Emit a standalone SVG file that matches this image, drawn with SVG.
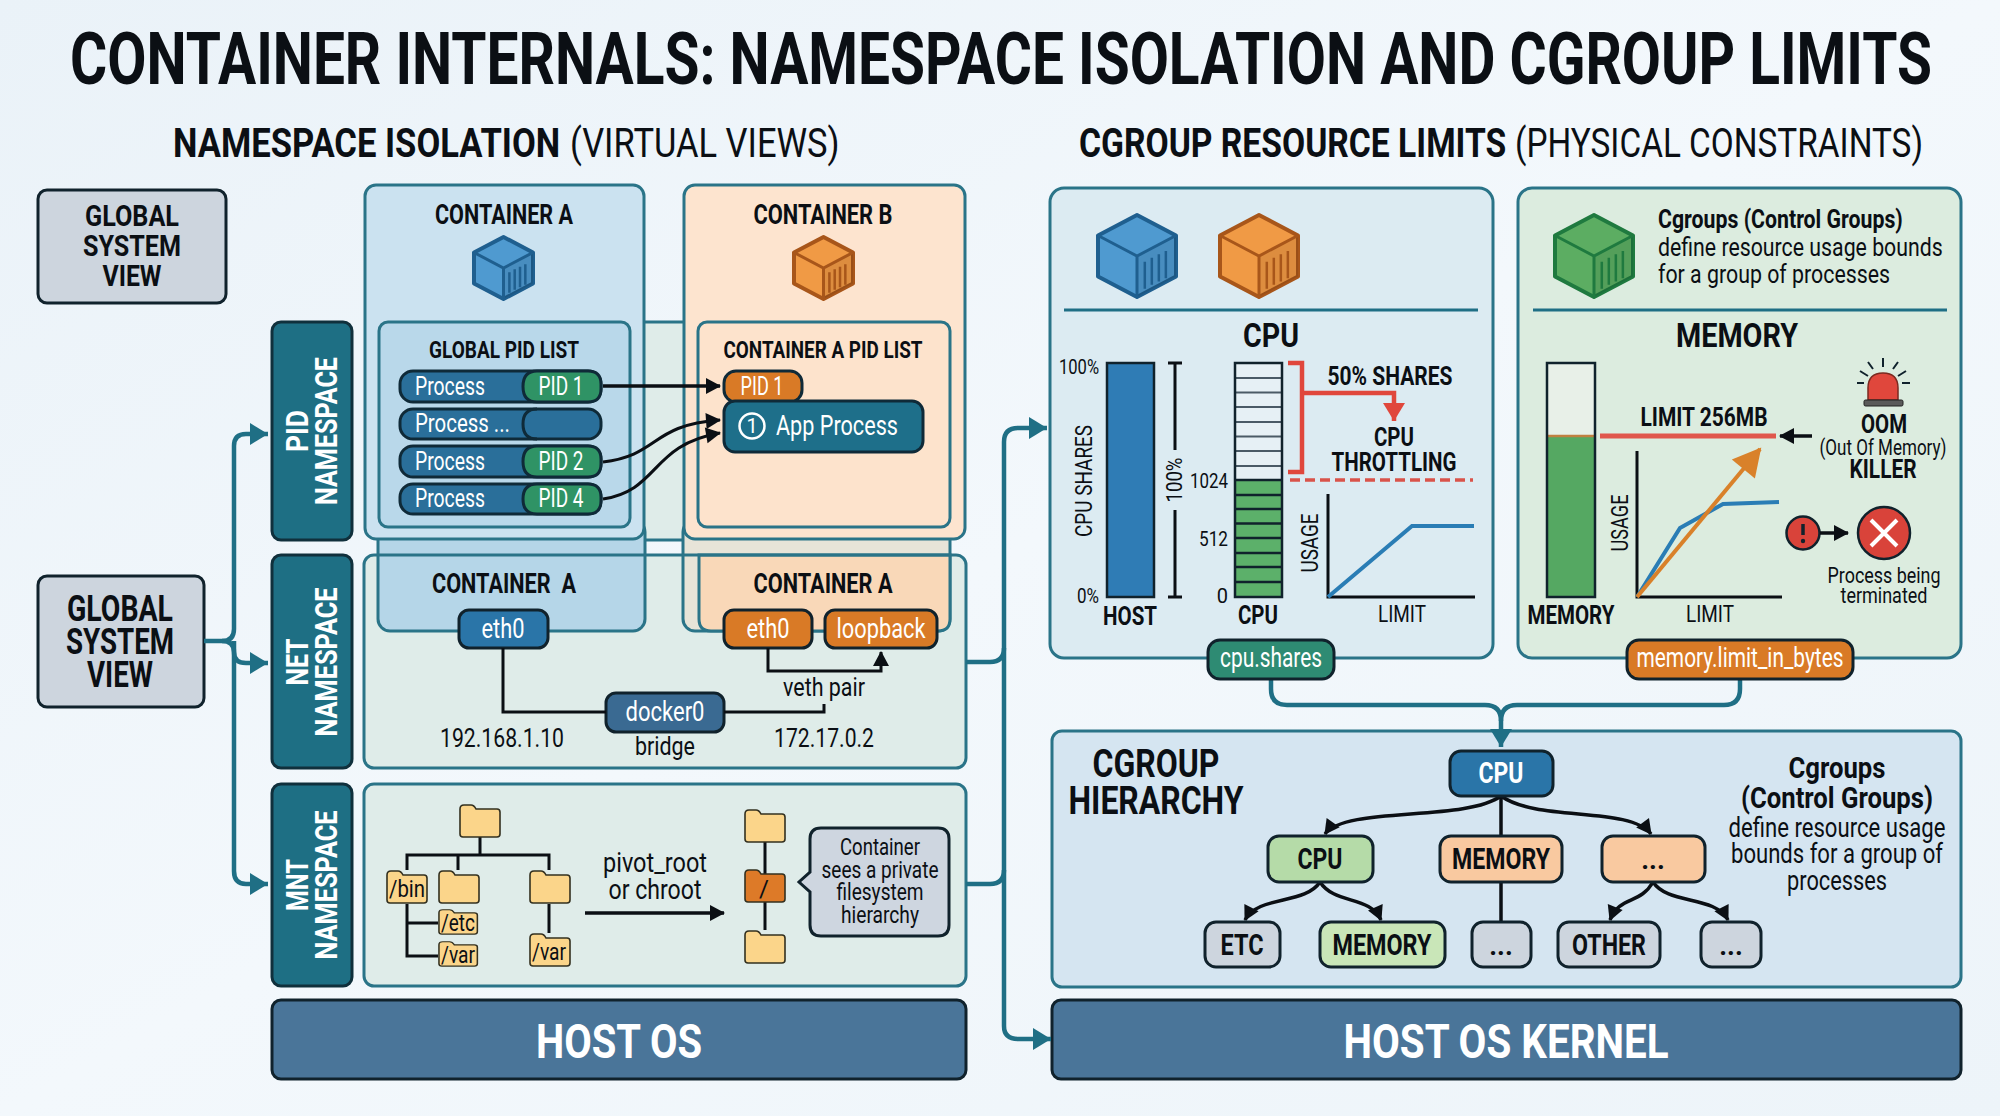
<svg xmlns="http://www.w3.org/2000/svg" width="2000" height="1116" viewBox="0 0 2000 1116">
<style>
text{font-family:Roboto,"Liberation Sans",sans-serif;fill:#0b0f14}
.b{font-weight:700}
.m{text-anchor:middle}
.w{fill:#fff}
.panel{stroke:#2a7488;stroke-width:3}
.dk{stroke:#10222c;stroke-width:3}
.tl{fill:none;stroke:#1f6f85;stroke-width:4.5;stroke-linejoin:round}
.bk{fill:none;stroke:#0b0f14;stroke-width:3.5}
.bk3{fill:none;stroke:#0b0f14;stroke-width:3}
.thin{fill:none;stroke:#0b0f14;stroke-width:3}
.red{fill:none;stroke:#e0473c;stroke-width:4.5}
.dash{fill:none;stroke:#d9534a;stroke-width:3.5;stroke-dasharray:10,5}
.ns{fill:#1e6f84;stroke:#10303c;stroke-width:3}
.pill{fill:#2a6f9a;stroke:#0f2a38;stroke-width:3}
.pid{fill:#2f9365;stroke:#0f2a38;stroke-width:3}
.fo{fill:#fbd58a;stroke:#33301f;stroke-width:1.6}
.gr{fill:#cdd5de;stroke:#10222c;stroke-width:3}
</style>
<defs>
<linearGradient id="bg" x1="0" y1="0" x2="1" y2="1"><stop offset="0" stop-color="#eaf2f8"/><stop offset=".5" stop-color="#f3f8fc"/><stop offset="1" stop-color="#edf4f9"/></linearGradient>
<marker id="at" markerUnits="userSpaceOnUse" markerWidth="22" markerHeight="24" refX="20" refY="12" orient="auto"><path d="M2,1 L20,12 L2,23 Z" fill="#1f6f85"/></marker>
<marker id="ab" markerUnits="userSpaceOnUse" markerWidth="18" markerHeight="18" refX="15" refY="9" orient="auto"><path d="M1,1 L16,9 L1,17 Z" fill="#0b0f14"/></marker>
<marker id="ar" markerUnits="userSpaceOnUse" markerWidth="24" markerHeight="24" refX="20" refY="12" orient="auto"><path d="M2,1 L20,12 L2,23 Z" fill="#e0473c"/></marker>
<marker id="ao" markerUnits="userSpaceOnUse" markerWidth="36" markerHeight="36" refX="28" refY="18" orient="auto"><path d="M2,3 L30,18 L2,33 Z" fill="#d9812a"/></marker>
<g id="cube">
<path d="M50,0 L100,25 V75 L50,100 L0,75 V25 Z" stroke-width="4" vector-effect="non-scaling-stroke" stroke-linejoin="round"/>
<path d="M50,50 L100,25 V75 L50,100 Z" fill="#000" fill-opacity=".08" stroke="none"/>
<path d="M0,25 L50,50 L100,25 M50,50 V100" fill="none" vector-effect="non-scaling-stroke" stroke-width="3"/>
<path d="M60,57 V90 M69,52 V85 M78,48 V81 M87,44 V77" fill="none" vector-effect="non-scaling-stroke" stroke-width="2.5"/>
</g>
<path id="folder" d="M1,5 Q1,1 5,1 L12,1 Q15,1 17,5 L38,5 Q41,5 41,8 L41,30 Q41,33 38,33 L4,33 Q1,33 1,30 Z"/>
</defs>
<rect width="2000" height="1116" fill="url(#bg)"/>

<g id="headings">
<text class="b m" transform="translate(1001,84) scale(.78,1)" font-size="72" textLength="2387" lengthAdjust="spacingAndGlyphs">CONTAINER INTERNALS: NAMESPACE ISOLATION AND CGROUP LIMITS</text>
<text class="b" transform="translate(173,157) scale(.8,1)" font-size="41" textLength="484" lengthAdjust="spacingAndGlyphs">NAMESPACE ISOLATION</text>
<text transform="translate(570,157) scale(.8,1)" font-size="41" textLength="337" lengthAdjust="spacingAndGlyphs">(VIRTUAL VIEWS)</text>
<text class="b" transform="translate(1079,157) scale(.8,1)" font-size="41" textLength="534" lengthAdjust="spacingAndGlyphs">CGROUP RESOURCE LIMITS</text>
<text transform="translate(1515,157) scale(.8,1)" font-size="41" textLength="510" lengthAdjust="spacingAndGlyphs">(PHYSICAL CONSTRAINTS)</text>
</g>

<g id="global-view-top">
<rect x="38" y="190" width="188" height="113" rx="9" class="gr"/>
<text class="b m" x="132" y="226" font-size="30" textLength="94" lengthAdjust="spacingAndGlyphs">GLOBAL</text>
<text class="b m" x="132" y="256" font-size="30" textLength="98" lengthAdjust="spacingAndGlyphs">SYSTEM</text>
<text class="b m" x="132" y="286" font-size="30" textLength="59" lengthAdjust="spacingAndGlyphs">VIEW</text>
</g>
<g id="global-view-main">
<rect x="38" y="576" width="166" height="131" rx="9" class="gr"/>
<text class="b m" x="120" y="621" font-size="36" textLength="106" lengthAdjust="spacingAndGlyphs">GLOBAL</text>
<text class="b m" x="120" y="654" font-size="36" textLength="108" lengthAdjust="spacingAndGlyphs">SYSTEM</text>
<text class="b m" x="120" y="687" font-size="36" textLength="66" lengthAdjust="spacingAndGlyphs">VIEW</text>
</g>

<g id="pid-namespace-label">
<rect x="272" y="322" width="80" height="218" rx="9" class="ns"/>
<text class="b m w" transform="translate(308,431) rotate(-90)" font-size="32" textLength="42" lengthAdjust="spacingAndGlyphs">PID</text>
<text class="b m w" transform="translate(337,431) rotate(-90)" font-size="32" textLength="148" lengthAdjust="spacingAndGlyphs">NAMESPACE</text>
</g>
<g id="net-namespace-label">
<rect x="272" y="555" width="80" height="213" rx="9" class="ns"/>
<text class="b m w" transform="translate(308,662) rotate(-90)" font-size="32" textLength="47" lengthAdjust="spacingAndGlyphs">NET</text>
<text class="b m w" transform="translate(337,662) rotate(-90)" font-size="32" textLength="149" lengthAdjust="spacingAndGlyphs">NAMESPACE</text>
</g>
<g id="mnt-namespace-label">
<rect x="272" y="784" width="80" height="202" rx="9" class="ns"/>
<text class="b m w" transform="translate(308,885) rotate(-90)" font-size="32" textLength="52" lengthAdjust="spacingAndGlyphs">MNT</text>
<text class="b m w" transform="translate(337,885) rotate(-90)" font-size="32" textLength="149" lengthAdjust="spacingAndGlyphs">NAMESPACE</text>
</g>

<g id="pid-panel"><rect x="600" y="322" width="120" height="218" fill="#dfece9" class="panel"/></g>

<g id="net-panel">
<rect x="364" y="555" width="602" height="213" rx="10" fill="#dfece9"/>
<rect x="378" y="520" width="267" height="111" rx="12" fill="#b5d6e8" class="panel"/>
<rect x="683" y="520" width="267" height="111" rx="12" fill="#e7e4d8" class="panel"/>
<path d="M699,555 H950 V619 Q950,631 938,631 H711 Q699,631 699,619 Z" fill="#f9d8b8" class="panel"/>
<rect x="364" y="555" width="602" height="213" rx="10" fill="none" class="panel"/>
<text class="b m" x="504" y="593" font-size="27" textLength="144" lengthAdjust="spacingAndGlyphs" xml:space="preserve">CONTAINER  A</text>
<text class="b m" x="823" y="593" font-size="27" textLength="139" lengthAdjust="spacingAndGlyphs">CONTAINER A</text>
</g>

<g id="container-a">
<rect x="365" y="185" width="279" height="354" rx="11" fill="#cbe2f0" class="panel"/>
<text class="b m" x="504" y="224" font-size="27" textLength="138" lengthAdjust="spacingAndGlyphs">CONTAINER A</text>
<use href="#cube" transform="translate(474,237) scale(.59,.62)" fill="#4f9ad0" stroke="#1f5f8f"/>
</g>
<g id="container-b">
<rect x="684" y="185" width="281" height="354" rx="11" fill="#fde4cf" class="panel"/>
<text class="b m" x="823" y="224" font-size="27" textLength="139" lengthAdjust="spacingAndGlyphs">CONTAINER B</text>
<use href="#cube" transform="translate(794,237) scale(.59,.62)" fill="#f09a45" stroke="#a8561a"/>
</g>

<g id="global-pid-list">
<rect x="379" y="322" width="251" height="205" rx="9" fill="#b9d8ea" class="panel"/>
<text class="b m" x="504" y="358" font-size="24" textLength="150" lengthAdjust="spacingAndGlyphs">GLOBAL PID LIST</text>
</g>
<g id="process-pid1">
<rect x="400" y="371" width="201" height="31" rx="13" class="pill"/>
<path d="M537,371 H588 Q601,371 601,384 V389 Q601,402 588,402 H537 Q523,402 523,386.500 Q523,371 537,371 Z" class="pid"/>
<text class="w" x="415" y="395" font-size="25" textLength="70" lengthAdjust="spacingAndGlyphs">Process</text>
<text class="w m" x="561" y="395" font-size="25" textLength="45" lengthAdjust="spacingAndGlyphs">PID 1</text>
</g>
<g id="process-more">
<rect x="400" y="409" width="201" height="30" rx="13" class="pill"/>
<path d="M537,409 Q523,409 523,424 Q523,439 537,439" fill="none" stroke="#0f2a38" stroke-width="3"/>
<text class="w" x="415" y="432" font-size="25" textLength="95" lengthAdjust="spacingAndGlyphs">Process ...</text>
</g>
<g id="process-pid2">
<rect x="400" y="446" width="201" height="31" rx="13" class="pill"/>
<path d="M537,446 H588 Q601,446 601,459 V464 Q601,477 588,477 H537 Q523,477 523,461.500 Q523,446 537,446 Z" class="pid"/>
<text class="w" x="415" y="470" font-size="25" textLength="70" lengthAdjust="spacingAndGlyphs">Process</text>
<text class="w m" x="561" y="470" font-size="25" textLength="45" lengthAdjust="spacingAndGlyphs">PID 2</text>
</g>
<g id="process-pid4">
<rect x="400" y="484" width="201" height="30" rx="13" class="pill"/>
<path d="M537,484 H588 Q601,484 601,497 V501 Q601,514 588,514 H537 Q523,514 523,499 Q523,484 537,484 Z" class="pid"/>
<text class="w" x="415" y="507" font-size="25" textLength="70" lengthAdjust="spacingAndGlyphs">Process</text>
<text class="w m" x="561" y="507" font-size="25" textLength="45" lengthAdjust="spacingAndGlyphs">PID 4</text>
</g>

<g id="container-a-pid-list">
<rect x="698" y="322" width="252" height="205" rx="9" fill="#fde3cc" class="panel"/>
<text class="b m" x="823" y="358" font-size="24" textLength="199" lengthAdjust="spacingAndGlyphs">CONTAINER A PID LIST</text>
</g>
<g id="pid1-orange">
<rect x="724" y="371" width="78" height="31" rx="12" fill="#d97a26" stroke="#0f2a38" stroke-width="3"/>
<text class="w m" x="762" y="395" font-size="25" textLength="43" lengthAdjust="spacingAndGlyphs">PID 1</text>
</g>
<g id="app-process">
<rect x="724" y="401" width="199" height="51" rx="11" fill="#1e6f8a" stroke="#0f2a38" stroke-width="3"/>
<circle cx="752" cy="426" r="12.500" fill="none" stroke="#fff" stroke-width="2.500"/>
<text class="w m" x="752" y="433" font-size="20">1</text>
<text class="w" x="776" y="435" font-size="28" textLength="122" lengthAdjust="spacingAndGlyphs">App Process</text>
</g>

<g id="net-content">
<g id="eth0-a"><rect x="459" y="610" width="89" height="38" rx="10" fill="#2a75a8" class="dk"/>
<text class="w m" x="503" y="638" font-size="27" textLength="43" lengthAdjust="spacingAndGlyphs">eth0</text></g>
<g id="eth0-b"><rect x="724" y="610" width="88" height="38" rx="10" fill="#d97a26" class="dk"/>
<text class="w m" x="768" y="638" font-size="27" textLength="43" lengthAdjust="spacingAndGlyphs">eth0</text></g>
<g id="loopback"><rect x="825" y="610" width="112" height="38" rx="10" fill="#d97a26" class="dk"/>
<text class="w m" x="881" y="638" font-size="27" textLength="89" lengthAdjust="spacingAndGlyphs">loopback</text></g>
<g id="docker0"><rect x="606" y="693" width="118" height="39" rx="10" fill="#3a6a92" class="dk"/>
<text class="w m" x="665" y="721" font-size="27" textLength="79" lengthAdjust="spacingAndGlyphs">docker0</text></g>
<text class="m" x="665" y="755" font-size="26" textLength="60" lengthAdjust="spacingAndGlyphs">bridge</text>
<text class="m" x="502" y="747" font-size="26" textLength="124" lengthAdjust="spacingAndGlyphs">192.168.1.10</text>
<text class="m" x="824" y="747" font-size="26" textLength="100" lengthAdjust="spacingAndGlyphs">172.17.0.2</text>
<text class="m" x="824" y="696" font-size="26" textLength="82" lengthAdjust="spacingAndGlyphs">veth pair</text>
</g>

<g id="mnt-panel">
<rect x="364" y="784" width="602" height="202" rx="10" fill="#dfece9" class="panel"/>
</g>
<g id="mnt-tree">
<path d="M480,837 V855 M407,870 V855 H549 V870 M458,855 V870 M407,904 V956 H438 M407,923 H438 M549,904 V933 M765,842 V930" class="thin"/>
<use href="#folder" class="fo" x="459" y="804"/>
<use href="#folder" class="fo" x="386" y="870"/>
<use href="#folder" class="fo" x="438" y="870"/>
<use href="#folder" class="fo" x="529" y="870"/>
<use href="#folder" class="fo" transform="translate(438,909) scale(.96,.76)"/>
<use href="#folder" class="fo" transform="translate(438,941) scale(.96,.76)"/>
<use href="#folder" class="fo" x="529" y="933"/>
<use href="#folder" class="fo" x="744" y="809"/>
<use href="#folder" fill="#dd7a28" stroke="#33301f" stroke-width="1.600" x="744" y="869"/>
<use href="#folder" class="fo" x="744" y="930"/>
<text class="m" x="407" y="897" font-size="24" textLength="36" lengthAdjust="spacingAndGlyphs">/bin</text>
<text class="m" x="458" y="931" font-size="24" textLength="34" lengthAdjust="spacingAndGlyphs">/etc</text>
<text class="m" x="458" y="963" font-size="24" textLength="34" lengthAdjust="spacingAndGlyphs">/var</text>
<text class="m" x="549" y="960" font-size="24" textLength="34" lengthAdjust="spacingAndGlyphs">/var</text>
<text class="m" x="764" y="897" font-size="24">/</text>
<text class="m" x="655" y="872" font-size="28" textLength="104" lengthAdjust="spacingAndGlyphs">pivot_root</text>
<text class="m" x="655" y="899" font-size="28" textLength="93" lengthAdjust="spacingAndGlyphs">or chroot</text>
</g>
<g id="callout">
<path d="M821,828 H938 Q949,828 949,839 V925 Q949,936 938,936 H821 Q810,936 810,925 V892 L799,882 L810,872 V839 Q810,828 821,828 Z" fill="#ced6e0" class="dk"/>
<text class="m" x="880" y="855" font-size="23" textLength="80" lengthAdjust="spacingAndGlyphs">Container</text>
<text class="m" x="880" y="878" font-size="23" textLength="117" lengthAdjust="spacingAndGlyphs">sees a private</text>
<text class="m" x="880" y="900" font-size="23" textLength="87" lengthAdjust="spacingAndGlyphs">filesystem</text>
<text class="m" x="880" y="923" font-size="23" textLength="78" lengthAdjust="spacingAndGlyphs">hierarchy</text>
</g>

<g id="host-os">
<rect x="272" y="1000" width="694" height="79" rx="9" fill="#4a7599" stroke="#10222c" stroke-width="3"/>
<text class="b m w" x="619" y="1058" font-size="48" textLength="166" lengthAdjust="spacingAndGlyphs">HOST OS</text>
</g>
<g id="host-os-kernel">
<rect x="1052" y="1000" width="909" height="79" rx="9" fill="#4a7599" stroke="#10222c" stroke-width="3"/>
<text class="b m w" x="1506" y="1058" font-size="48" textLength="325" lengthAdjust="spacingAndGlyphs">HOST OS KERNEL</text>
</g>

<g id="cpu-panel">
<rect x="1050" y="188" width="443" height="470" rx="14" fill="#dcebf2" class="panel"/>
<use href="#cube" transform="translate(1098,215) scale(.78,.82)" fill="#4f9ad0" stroke="#1f5f8f"/>
<use href="#cube" transform="translate(1220,215) scale(.78,.82)" fill="#f09a45" stroke="#a8561a"/>
<path d="M1064,310 H1478" stroke="#1f6f85" stroke-width="3"/>
<text class="b m" x="1271" y="347" font-size="34" textLength="56" lengthAdjust="spacingAndGlyphs">CPU</text>
<rect x="1107" y="363" width="47" height="234" fill="#2f7cb5" stroke="#10222c" stroke-width="2.500"/>
<text x="1099" y="374" font-size="20" text-anchor="end" textLength="40" lengthAdjust="spacingAndGlyphs">100%</text>
<text x="1099" y="603" font-size="20" text-anchor="end" textLength="22" lengthAdjust="spacingAndGlyphs">0%</text>
<text class="b m" x="1130" y="625" font-size="26" textLength="54" lengthAdjust="spacingAndGlyphs">HOST</text>
<text class="m" transform="translate(1092,481) rotate(-90)" font-size="24" textLength="112" lengthAdjust="spacingAndGlyphs">CPU SHARES</text>
<path d="M1168,363 H1182 M1175,363 V450 M1175,510 V597 M1168,597 H1182" class="thin"/>
<text class="m" transform="translate(1182,480) rotate(-90)" font-size="22" textLength="45" lengthAdjust="spacingAndGlyphs">100%</text>
<rect x="1235" y="363" width="47" height="117" fill="#e6f0f5"/>
<rect x="1235" y="480" width="47" height="117" fill="#5cb06a"/>
<path d="M1235,378 H1282 M1235,392.500 H1282 M1235,407 H1282 M1235,422 H1282 M1235,436.500 H1282 M1235,451 H1282 M1235,466 H1282" stroke="#4a5a66" stroke-width="2"/>
<path d="M1235,495 H1282 M1235,509 H1282 M1235,523.500 H1282 M1235,538 H1282 M1235,553 H1282 M1235,567 H1282 M1235,582 H1282 M1235,480 H1282" stroke="#10222c" stroke-width="2.500"/>
<rect x="1235" y="363" width="47" height="234" fill="none" stroke="#10222c" stroke-width="2.500"/>
<text x="1228" y="488" font-size="20" text-anchor="end" textLength="38" lengthAdjust="spacingAndGlyphs">1024</text>
<text x="1228" y="546" font-size="20" text-anchor="end" textLength="29" lengthAdjust="spacingAndGlyphs">512</text>
<text x="1228" y="603" font-size="20" text-anchor="end">0</text>
<text class="b m" x="1258" y="624" font-size="26" textLength="40" lengthAdjust="spacingAndGlyphs">CPU</text>
<path d="M1288,363 H1302 V472 H1288" class="red"/>
<path d="M1302,393 H1394 V421" class="red" marker-end="url(#ar)"/>
<path d="M1290,480 H1473" class="dash"/>
<text class="b m" x="1390" y="385" font-size="26" textLength="125" lengthAdjust="spacingAndGlyphs">50% SHARES</text>
<text class="b m" x="1394" y="446" font-size="26" textLength="40" lengthAdjust="spacingAndGlyphs">CPU</text>
<text class="b m" x="1394" y="471" font-size="26" textLength="125" lengthAdjust="spacingAndGlyphs">THROTTLING</text>
<path d="M1328,494 V597 H1475" class="thin"/>
<path d="M1328,597 L1412,526 H1474" fill="none" stroke="#2a7db5" stroke-width="4"/>
<text class="m" transform="translate(1318,543) rotate(-90)" font-size="23" textLength="59" lengthAdjust="spacingAndGlyphs">USAGE</text>
<text class="m" x="1402" y="622" font-size="23" textLength="48" lengthAdjust="spacingAndGlyphs">LIMIT</text>
</g>

<g id="memory-panel">
<rect x="1518" y="188" width="443" height="470" rx="14" fill="#dcecdf" class="panel"/>
<use href="#cube" transform="translate(1555,215) scale(.78,.82)" fill="#5cad62" stroke="#1f7a3f"/>
<text class="b" transform="translate(1658,228) scale(.85,1)" font-size="26" textLength="288" lengthAdjust="spacingAndGlyphs">Cgroups (Control Groups)</text>
<text transform="translate(1658,256) scale(.85,1)" font-size="26" textLength="335" lengthAdjust="spacingAndGlyphs">define resource usage bounds</text>
<text transform="translate(1658,283) scale(.85,1)" font-size="26" textLength="273" lengthAdjust="spacingAndGlyphs">for a group of processes</text>
<path d="M1533,310 H1947" stroke="#1f6f85" stroke-width="3"/>
<text class="b m" x="1737" y="347" font-size="34" textLength="122" lengthAdjust="spacingAndGlyphs">MEMORY</text>
<rect x="1547" y="363" width="48" height="74" fill="#e8f0e8"/>
<rect x="1547" y="437" width="48" height="160" fill="#55a862"/>
<path d="M1547,436 H1595" stroke="#c08040" stroke-width="2.500"/>
<rect x="1547" y="363" width="48" height="234" fill="none" stroke="#10222c" stroke-width="2.500"/>
<text class="b m" x="1571" y="624" font-size="26" textLength="87" lengthAdjust="spacingAndGlyphs">MEMORY</text>
<path d="M1600,436 H1776" stroke="#e0574c" stroke-width="5"/>
<text class="b m" x="1704" y="426" font-size="26" textLength="127" lengthAdjust="spacingAndGlyphs">LIMIT 256MB</text>
<path d="M1812,436 H1780" class="bk" marker-end="url(#ab)"/>
<path d="M1637,451 V597 H1782" class="thin"/>
<path d="M1637,597 L1680,528 L1723,504 L1779,502" fill="none" stroke="#2a7db5" stroke-width="4"/>
<path d="M1637,597 L1760,449" fill="none" stroke="#d9812a" stroke-width="4" marker-end="url(#ao)"/>
<text class="m" transform="translate(1628,523) rotate(-90)" font-size="23" textLength="57" lengthAdjust="spacingAndGlyphs">USAGE</text>
<text class="m" x="1710" y="622" font-size="23" textLength="48" lengthAdjust="spacingAndGlyphs">LIMIT</text>
<g id="alarm">
<path d="M1868,400 V388 Q1868,373 1883,373 Q1898,373 1898,388 V400 Z" fill="#e0473c" stroke="#7a2a20" stroke-width="1.500"/>
<rect x="1864" y="400" width="39" height="6" rx="1.500" fill="#5a5a5a" stroke="#222" stroke-width="1"/>
<path d="M1883,358 V367 M1868,362 L1873,369 M1898,362 L1893,369 M1860,371 L1868,376 M1906,371 L1898,376 M1857,383 H1864 M1902,383 H1910" stroke="#10222c" stroke-width="2"/>
</g>
<text class="b m" x="1884" y="433" font-size="26" textLength="46" lengthAdjust="spacingAndGlyphs">OOM</text>
<text class="m" x="1883" y="455" font-size="22" textLength="127" lengthAdjust="spacingAndGlyphs">(Out Of Memory)</text>
<text class="b m" x="1883" y="478" font-size="26" textLength="67" lengthAdjust="spacingAndGlyphs">KILLER</text>
<circle cx="1803" cy="533" r="16.500" fill="#d9433a" stroke="#10222c" stroke-width="2.500"/>
<path d="M1803,524 V535" stroke="#10222c" stroke-width="3.500"/><circle cx="1803" cy="541" r="2.200" fill="#10222c"/>
<path d="M1820,533 H1848" class="bk" marker-end="url(#ab)"/>
<circle cx="1884" cy="533" r="26" fill="#d9433a" stroke="#10222c" stroke-width="2.500"/>
<path d="M1871,520 L1897,546 M1897,520 L1871,546" stroke="#fff" stroke-width="4"/>
<text class="m" x="1884" y="583" font-size="22" textLength="113" lengthAdjust="spacingAndGlyphs">Process being</text>
<text class="m" x="1884" y="603" font-size="22" textLength="87" lengthAdjust="spacingAndGlyphs">terminated</text>
</g>

<g id="cgroup-hierarchy">
<rect x="1052" y="731" width="909" height="256" rx="10" fill="#d5e5f1" class="panel"/>
<text class="b m" x="1156" y="777" font-size="38" textLength="127" lengthAdjust="spacingAndGlyphs">CGROUP</text>
<text class="b m" x="1156" y="814" font-size="38" textLength="175" lengthAdjust="spacingAndGlyphs">HIERARCHY</text>
<text class="b m" x="1837" y="778" font-size="29" textLength="97" lengthAdjust="spacingAndGlyphs">Cgroups</text>
<text class="b m" x="1837" y="808" font-size="29" textLength="192" lengthAdjust="spacingAndGlyphs">(Control Groups)</text>
<text class="m" x="1837" y="837" font-size="27" textLength="217" lengthAdjust="spacingAndGlyphs">define resource usage</text>
<text class="m" x="1837" y="863" font-size="27" textLength="212" lengthAdjust="spacingAndGlyphs">bounds for a group of</text>
<text class="m" x="1837" y="890" font-size="27" textLength="100" lengthAdjust="spacingAndGlyphs">processes</text>
</g>
<g id="tree-connectors">
<path d="M1501,796 V836 M1501,882 V922" class="bk"/>
<path d="M1501,796 C1465,822 1345,806 1325,834" class="bk" marker-end="url(#ab)"/>
<path d="M1501,796 C1537,822 1630,806 1651,834" class="bk" marker-end="url(#ab)"/>
<path d="M1320,882 C1305,905 1258,895 1245,920" class="bk" marker-end="url(#ab)"/>
<path d="M1320,882 C1335,905 1370,895 1381,920" class="bk" marker-end="url(#ab)"/>
<path d="M1653,882 C1640,905 1620,895 1610,920" class="bk" marker-end="url(#ab)"/>
<path d="M1653,882 C1668,905 1715,895 1728,920" class="bk" marker-end="url(#ab)"/>
</g>
<g id="h-cpu"><rect x="1450" y="751" width="103" height="45" rx="11" fill="#2a75a8" class="dk"/><text class="b m w" x="1501" y="783" font-size="29" textLength="45" lengthAdjust="spacingAndGlyphs">CPU</text></g>
<g id="h-cpu2"><rect x="1268" y="836" width="105" height="46" rx="11" fill="#b5dba8" class="dk"/><text class="b m" x="1320" y="869" font-size="29" textLength="45" lengthAdjust="spacingAndGlyphs">CPU</text></g>
<g id="h-memory"><rect x="1440" y="836" width="122" height="46" rx="11" fill="#f9c9a0" class="dk"/><text class="b m" x="1501" y="869" font-size="29" textLength="98" lengthAdjust="spacingAndGlyphs">MEMORY</text></g>
<g id="h-more"><rect x="1602" y="836" width="103" height="46" rx="11" fill="#f9c9a0" class="dk"/><text class="b m" x="1653" y="869" font-size="27">...</text></g>
<g id="h-etc"><rect x="1205" y="922" width="75" height="45" rx="11" class="gr"/><text class="b m" x="1242" y="955" font-size="29" textLength="43" lengthAdjust="spacingAndGlyphs">ETC</text></g>
<g id="h-memory2"><rect x="1320" y="922" width="125" height="45" rx="11" fill="#c9e6b8" class="dk"/><text class="b m" x="1382" y="955" font-size="29" textLength="99" lengthAdjust="spacingAndGlyphs">MEMORY</text></g>
<g id="h-more2"><rect x="1472" y="922" width="59" height="45" rx="11" class="gr"/><text class="b m" x="1501" y="955" font-size="27">...</text></g>
<g id="h-other"><rect x="1558" y="922" width="102" height="45" rx="11" class="gr"/><text class="b m" x="1609" y="955" font-size="29" textLength="74" lengthAdjust="spacingAndGlyphs">OTHER</text></g>
<g id="h-more3"><rect x="1701" y="922" width="60" height="45" rx="11" class="gr"/><text class="b m" x="1731" y="955" font-size="27">...</text></g>

<g id="connectors">
<path d="M204,641 H222 Q234,641 234,629 V446 Q234,434 246,434 H268" class="tl" marker-end="url(#at)"/>
<path d="M234,641 V871 Q234,884 246,884 H268" class="tl" marker-end="url(#at)"/>
<path d="M222,641 Q234,641 234,652 Q234,663 246,663 H268" class="tl" marker-end="url(#at)"/>
<path d="M966,662 H990 Q1004,662 1004,648 V442 Q1004,428 1018,428 H1047" class="tl" marker-end="url(#at)"/>
<path d="M966,884 H990 Q1004,884 1004,870 V648" class="tl"/>
<path d="M1004,870 V1026 Q1004,1039 1018,1039 H1051" class="tl" marker-end="url(#at)"/>
<path d="M603,386 H720" class="bk" marker-end="url(#ab)"/>
<path d="M603,462 C660,455 650,425 720,420" class="bk3" marker-end="url(#ab)"/>
<path d="M603,499 C660,490 650,445 720,433" class="bk3" marker-end="url(#ab)"/>
<path d="M503,648 V712 H606 M724,712 H824 V704" class="thin"/>
<path d="M768,648 V671 H881 V652" class="thin" marker-end="url(#ab)"/>
<path d="M585,913 H724" class="bk" marker-end="url(#ab)"/>
<path d="M1271,679 V689 Q1271,705 1287,705 H1485 Q1501,705 1501,721" class="tl"/>
<path d="M1740,679 V689 Q1740,705 1724,705 H1517 Q1501,705 1501,721 V747" class="tl" marker-end="url(#at)"/>
</g>
<g id="cpu-shares"><rect x="1208" y="640" width="126" height="39" rx="12" fill="#2e8b73" class="dk"/><text class="w m" x="1271" y="667" font-size="27" textLength="102" lengthAdjust="spacingAndGlyphs">cpu.shares</text></g>
<g id="memory-limit"><rect x="1627" y="640" width="226" height="39" rx="12" fill="#d97a26" class="dk"/><text class="w m" x="1740" y="667" font-size="27" textLength="207" lengthAdjust="spacingAndGlyphs">memory.limit_in_bytes</text></g>
</svg>
